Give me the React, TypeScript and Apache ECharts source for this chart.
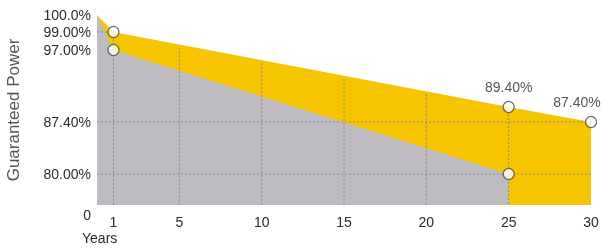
import React, { useEffect, useRef } from "react";
import * as echarts from "echarts";

// ---- data ----
const YEARS_UPPER = [0, 1, 25, 30];
const POWER_UPPER = [100, 99, 89.4, 87.4];
const YEARS_LOWER = [0, 1, 25];
const POWER_LOWER = [100, 97, 80];
const LABELED_UPPER_YEARS = [25, 30];
const X_TICKS = [1, 5, 10, 15, 20, 25, 30];
const X_GRID = [1, 5, 10, 15, 20, 25];
const Y_TICKS = [0, 80, 87.4, 97, 99, 100];
const Y_TICK_LABELS = ["0", "80.00%", "87.40%", "97.00%", "99.00%", "100.0%"];
const H_GRID_VALUES = [99, 87.4, 80];
const H_GRID_END_YEARS = [1, 30, 30];

// broken (piecewise) axis scale: value -> axis units
const SCALE_UNITS = [0, 31, 83, 155, 173, 190];
function toAxis(v: number): number {
  for (let i = 0; i < Y_TICKS.length - 1; i++) {
    const a = Y_TICKS[i], b = Y_TICKS[i + 1];
    if (v >= a && v <= b) {
      return SCALE_UNITS[i] + ((v - a) / (b - a)) * (SCALE_UNITS[i + 1] - SCALE_UNITS[i]);
    }
  }
  return v > 100 ? SCALE_UNITS[SCALE_UNITS.length - 1] : 0;
}
function upperAt(x: number): number {
  for (let i = 0; i < YEARS_UPPER.length - 1; i++) {
    const a = YEARS_UPPER[i], b = YEARS_UPPER[i + 1];
    if (x >= a && x <= b) {
      const t = (x - a) / (b - a);
      return toAxis(POWER_UPPER[i]) + t * (toAxis(POWER_UPPER[i + 1]) - toAxis(POWER_UPPER[i]));
    }
  }
  return 0;
}

const YELLOW = "#F7C500";
const GRAY = "#BEBCC0";
const DOT = "#8a8a8a";
const TEXT = "#2b2b2b";
const FONT = "Liberation Sans, Arial, sans-serif";

export default function App() {
  const ref = useRef<HTMLDivElement>(null);
  useEffect(() => {
    if (!ref.current) return;
    const chart = echarts.init(ref.current, undefined, { renderer: "svg" });

    const upperData = YEARS_UPPER.map((x, i) => [x, toAxis(POWER_UPPER[i])]);
    const lowerData = YEARS_LOWER.map((x, i) => [x, toAxis(POWER_LOWER[i])]);

    const markers: any[] = [];
    YEARS_UPPER.forEach((x, i) => {
      if (x === 0) return;
      const labeled = LABELED_UPPER_YEARS.indexOf(x) >= 0;
      markers.push({
        value: [x, toAxis(POWER_UPPER[i])],
        label: {
          show: labeled,
          formatter: POWER_UPPER[i].toFixed(2) + "%",
          offset: x === 30 ? [-14, 0] : [0, 0],
        },
      });
    });
    YEARS_LOWER.forEach((x, i) => {
      if (x === 0) return;
      markers.push({ value: [x, toAxis(POWER_LOWER[i])], label: { show: false } });
    });

    const dotStyle = { stroke: DOT, lineWidth: 1, lineDash: [2, 2] };

    chart.setOption({
      animation: false,
      grid: {
        left: 97,
        right: 10,
        top: 15,
        bottom: 44,
        containLabel: false,
        outerBoundsMode: "none",
      },
      xAxis: {
        type: "value",
        min: 0,
        max: 30,
        axisLine: { show: false },
        axisTick: { show: false },
        splitLine: { show: false },
        axisLabel: {
          customValues: X_TICKS,
          color: TEXT,
          fontSize: 14,
          fontFamily: FONT,
          margin: 10,
        },
      },
      yAxis: {
        type: "value",
        min: 0,
        max: SCALE_UNITS[SCALE_UNITS.length - 1],
        name: "Guaranteed Power",
        nameLocation: "middle",
        nameGap: 75,
        nameTextStyle: { color: "#555", fontSize: 17, fontFamily: FONT },
        axisLine: { show: false },
        axisTick: { show: false },
        splitLine: { show: false },
        axisLabel: {
          customValues: Y_TICKS.map(toAxis),
          color: TEXT,
          fontSize: 14,
          fontFamily: FONT,
          margin: 6,
          formatter: (val: number) => {
            let best = 0;
            Y_TICKS.forEach((t, i) => {
              if (Math.abs(toAxis(t) - val) < Math.abs(toAxis(Y_TICKS[best]) - val)) best = i;
            });
            return best === 0 ? "{z|" + Y_TICK_LABELS[0] + "}" : Y_TICK_LABELS[best];
          },
          rich: { z: { padding: [20, 0, 0, 0], fontSize: 14, color: TEXT, fontFamily: FONT } },
        },
      },
      graphic: [
        {
          type: "text",
          left: 82,
          top: 231,
          style: { text: "Years", fill: TEXT, fontSize: 14, fontFamily: FONT },
        },
      ],
      series: [
        {
          type: "line",
          data: upperData,
          symbol: "none",
          lineStyle: { width: 0 },
          areaStyle: { color: YELLOW, opacity: 1, origin: "start" },
          z: 1,
        },
        {
          type: "line",
          data: lowerData,
          symbol: "none",
          lineStyle: { width: 0 },
          areaStyle: { color: GRAY, opacity: 1, origin: "start" },
          z: 2,
        },
        {
          type: "custom",
          z: 3,
          data: X_GRID.map((x) => [x, 0]),
          encode: { x: 0, y: 1 },
          renderItem: (params: any, api: any) => {
            const x = api.value(0);
            const top = api.coord([x, upperAt(x)]);
            const bot = api.coord([x, 0]);
            return {
              type: "line",
              shape: { x1: top[0], y1: top[1] + 3, x2: bot[0], y2: bot[1] },
              style: dotStyle,
            };
          },
        },
        {
          type: "custom",
          z: 3,
          data: H_GRID_VALUES.map((v, i) => [0, toAxis(v), H_GRID_END_YEARS[i]]),
          encode: { x: 0, y: 1 },
          renderItem: (params: any, api: any) => {
            const a = api.coord([api.value(0), api.value(1)]);
            const b = api.coord([api.value(2), api.value(1)]);
            return {
              type: "line",
              shape: { x1: a[0], y1: a[1], x2: b[0], y2: b[1] },
              style: dotStyle,
            };
          },
        },
        {
          type: "scatter",
          z: 4,
          data: markers,
          symbol: "circle",
          symbolSize: 11,
          itemStyle: { color: "#fff", borderColor: "#4a4a4a", borderWidth: 1.2 },
          label: {
            position: "top",
            distance: 7,
            color: TEXT,
            fontSize: 14,
            fontFamily: FONT,
          },
        },
      ],
    });
    return () => chart.dispose();
  }, []);
  return (
    <div
      ref={ref}
      style={{ position: "fixed", left: 0, top: 0, width: 601, height: 249 }}
    />
  );
}
